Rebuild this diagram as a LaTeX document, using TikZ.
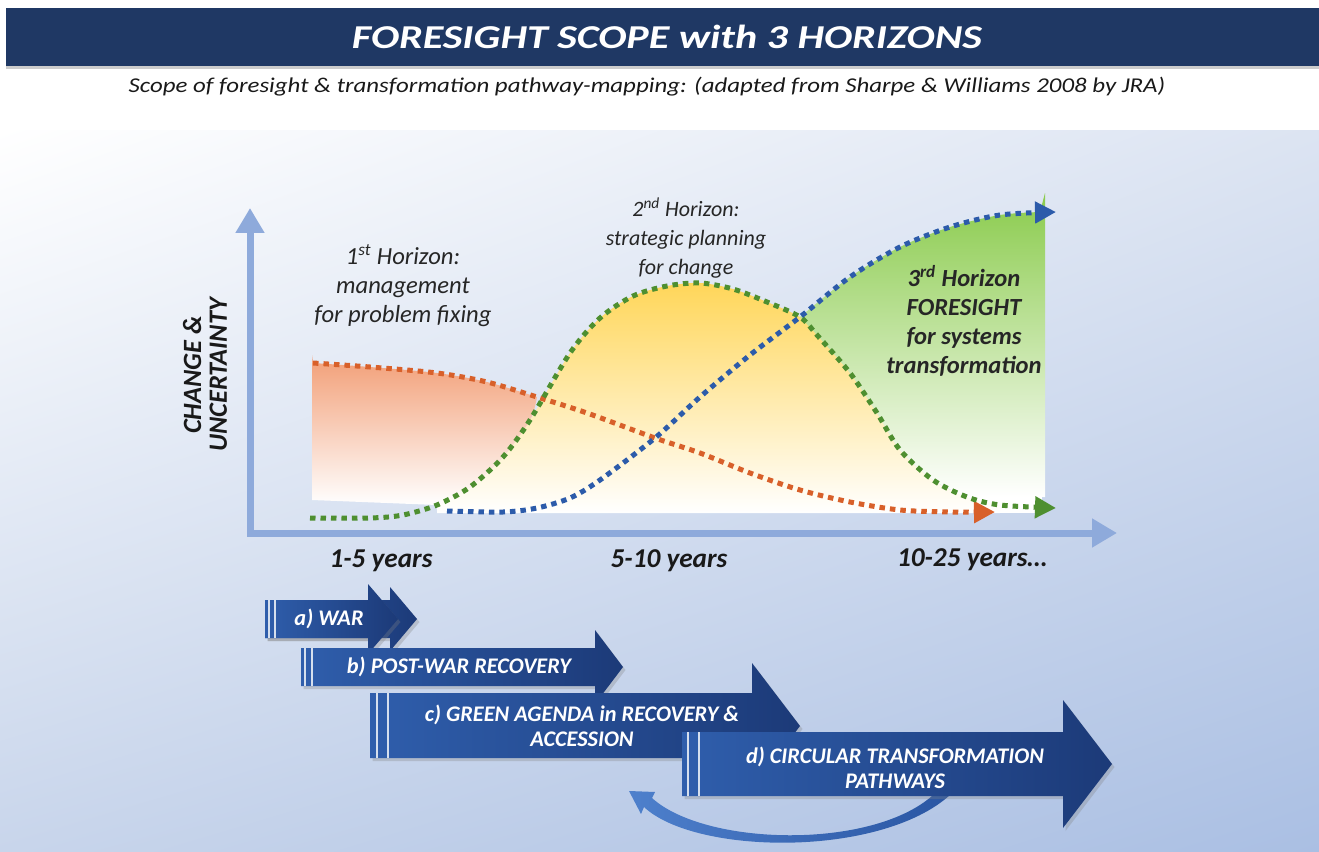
\documentclass[tikz,border=0pt]{standalone}
\usepackage{fontspec}
\setmainfont{Carlito}
\newfontfamily\titlefont[FakeStretch=1.26]{Carlito}
\newfontfamily\subtitlefont[FakeStretch=1.18]{Carlito}
\usetikzlibrary{arrows.meta,shadows,shadings}
\definecolor{barnavy}{HTML}{1F3864}
\definecolor{axisblue}{HTML}{8EAADB}
\definecolor{dotorange}{HTML}{D8602A}
\definecolor{dotgreen}{HTML}{4E8F30}
\definecolor{dotblue}{HTML}{2C5BAA}
\definecolor{fillorange}{HTML}{F29E76}
\definecolor{fillyellow}{HTML}{FFD659}
\definecolor{fillgreen}{HTML}{8ACB4C}
\definecolor{arrowlight}{HTML}{2F5EAC}
\definecolor{arrowdark}{HTML}{1C3A78}
\definecolor{loopleft}{HTML}{4E80CC}
\definecolor{loopright}{HTML}{2A56A3}
\definecolor{bgright}{HTML}{DCE4F2}
\definecolor{bgleft}{HTML}{C8D5EB}
\definecolor{bgcorner}{HTML}{AABFE3}
\tikzset{
 chartaxis/.style={axisblue, line width=0.14cm, line join=miter,
  {Triangle[length=0.5cm,width=0.55cm]}-{Triangle[length=0.5cm,width=0.55cm]}},
 horizon/.style={line width=0.1cm, dash pattern=on 0.11cm off 0.1cm,
  -{Triangle[length=0.42cm,width=0.42cm]}},
 phase/.style={left color=arrowlight, right color=arrowdark,
  drop shadow={opacity=0.3,shadow xshift=0.05cm,shadow yshift=-0.06cm}},
 stripe/.style={white!80!arrowlight, line width=0.05cm},
 horizonlabel/.style={text=black!85, font=\itshape\fontsize{14}{16.5}\selectfont, align=center},
 axislabel/.style={text=black!90, font=\bfseries\itshape\fontsize{15}{14.7}\selectfont, align=center},
 phaselabel/.style={text=white, font=\bfseries\itshape\fontsize{12.7}{14.5}\selectfont, align=center},
 years/.style={text=black!90, font=\bfseries\itshape\fontsize{15.5}{18}\selectfont}
}

\begin{document}
\begin{tikzpicture}[x=0.02cm, y=-0.02cm]
  \useasboundingbox (0,0) rectangle (1319,852);
  % background and title
  \fill[white] (0,0) rectangle (1319,852);
  \shade[upper left=white, upper right=bgright, lower left=bgleft, lower right=bgcorner] (0,130) rectangle (1319,852);
  \fill[barnavy, drop shadow={opacity=0.4,shadow xshift=0cm,shadow yshift=-0.06cm}] (6,8) rectangle (1319,66);
  \node[text=white, font=\titlefont\bfseries\itshape\fontsize{19}{23}\selectfont] (title) at (667,37) {FORESIGHT SCOPE with 3 HORIZONS};
  \node[text=black!90, font=\subtitlefont\itshape\fontsize{12}{14}\selectfont] (subtitle) at (647,87) {Scope of foresight \& transformation pathway-mapping: (adapted from Sharpe \& Williams 2008 by JRA)};

  % horizon areas
  \fill[white] (440,490) rectangle (1042,513);
  \shade[top color=fillyellow, bottom color=white] (437,513)
    -- plot[smooth] coordinates {(437,505) (470,487) (503,457) (530,420) (570,353) (600,318) (633,296) (667,286) (700,283) (733,289) (767,302) (800,317) (817,335) (850,373) (877,413) (900,450) (933,480) (967,497) (1000,505)}
    -- (1000,513) -- cycle;
  \shade[top color=fillorange, bottom color=white] (312,500) -- (312,355)
    -- plot[smooth] coordinates {(313,363) (370,367) (437,373) (487,382) (537,397)}
    -- plot[smooth] coordinates {(537,397) (530,420) (503,457) (470,487) (437,505)} -- cycle;
  \shade[top color=fillgreen, bottom color=white]
    plot[smooth] coordinates {(800,317) (850,277) (900,247) (950,227) (1000,215) (1040,212)}
    -- (1045,193) -- (1045,497) -- (967,497)
    -- plot[smooth] coordinates {(967,497) (933,480) (900,450) (877,413) (850,373) (817,335) (800,317)} -- cycle;

  % axes
  \draw[chartaxis] (250,208) -- (250,533) -- (1117,533);
  \node[axislabel, rotate=90] (change) at (205,375) {CHANGE \&\\UNCERTAINTY};

  % horizon curves
  \draw[horizon, dotorange] plot[smooth] coordinates {(313,363) (370,367) (437,373) (487,382) (537,397) (587,413) (655,438) (700,453) (750,473) (800,490) (850,502) (900,510) (950,512) (995,512)};
  \draw[horizon, dotgreen] plot[smooth] coordinates {(310,518) (370,518) (403,515) (437,505) (470,487) (503,457) (530,420) (570,353) (600,318) (633,296) (667,286) (700,283) (733,289) (767,302) (800,317) (817,335) (850,373) (877,413) (900,450) (933,480) (967,497) (1000,505) (1056,508)};
  \draw[horizon, dotblue] plot[smooth] coordinates {(447,511) (503,512) (537,508) (570,498) (600,480) (655,438) (700,397) (750,355) (800,317) (850,277) (900,247) (950,227) (1000,215) (1056,212)};

  \node[horizonlabel] (first) at (403,286) {1\textsuperscript{st} Horizon:\\management\\for problem fixing};
  \node[horizonlabel, font=\itshape\fontsize{12.5}{16.5}\selectfont] (second) at (686,238) {2\textsuperscript{nd} Horizon:\\strategic planning\\for change};
  \node[horizonlabel, font=\bfseries\itshape\fontsize{14}{16.6}\selectfont] (third) at (964,321) {3\textsuperscript{rd} Horizon\\FORESIGHT\\for systems\\transformation};

  \node[years] (short) at (381,561) {1-5 years};
  \node[years] (medium) at (669,561) {5-10 years};
  \node[years] (long) at (972,560) {10-25 years…};

  % loop back under d
  \shade[left color=loopleft, right color=loopright] (629,791) -- (655,792) -- (652,798)
    .. controls (705,846) and (870,850) .. (932,796) -- (950,795)
    .. controls (880,858) and (695,855) .. (644,807) -- (641,814) -- cycle;

  % phase arrows
  \path[phase] (265,600) -- (390,600) -- (390,587) -- (417,619) -- (390,651) -- (390,638) -- (265,638) -- cycle;
  \path[phase] (265,600) -- (368,600) -- (368,584) -- (398,619) -- (368,654) -- (368,638) -- (265,638) -- cycle;
  \draw[stripe] (269,600) -- (269,638);
  \draw[stripe] (275,600) -- (275,638);
  \path[phase] (301,648) -- (595,648) -- (595,630) -- (623,667) -- (595,704) -- (595,686) -- (301,686) -- cycle;
  \draw[stripe] (305,648) -- (305,686);
  \draw[stripe] (312,648) -- (312,686);
  \path[phase] (370,693) -- (752,693) -- (752,663) -- (800,726) -- (752,789) -- (752,758) -- (370,758) -- cycle;
  \draw[stripe] (377,693) -- (377,758);
  \draw[stripe] (388,693) -- (388,758);
  \path[phase] (682,732) -- (1063,732) -- (1063,700) -- (1112,764) -- (1063,828) -- (1063,796) -- (682,796) -- cycle;
  \draw[stripe] (688,732) -- (688,796);
  \draw[stripe] (699,732) -- (699,796);

  \node[phaselabel] (war) at (329,619) {a) WAR};
  \node[phaselabel] (postwar) at (459,667) {b) POST-WAR RECOVERY};
  \node[phaselabel] (agenda) at (582,726) {c) GREEN AGENDA in RECOVERY \&\\ACCESSION};
  \node[phaselabel] (circular) at (895,768) {d) CIRCULAR TRANSFORMATION\\PATHWAYS};
\end{tikzpicture}
\end{document}
